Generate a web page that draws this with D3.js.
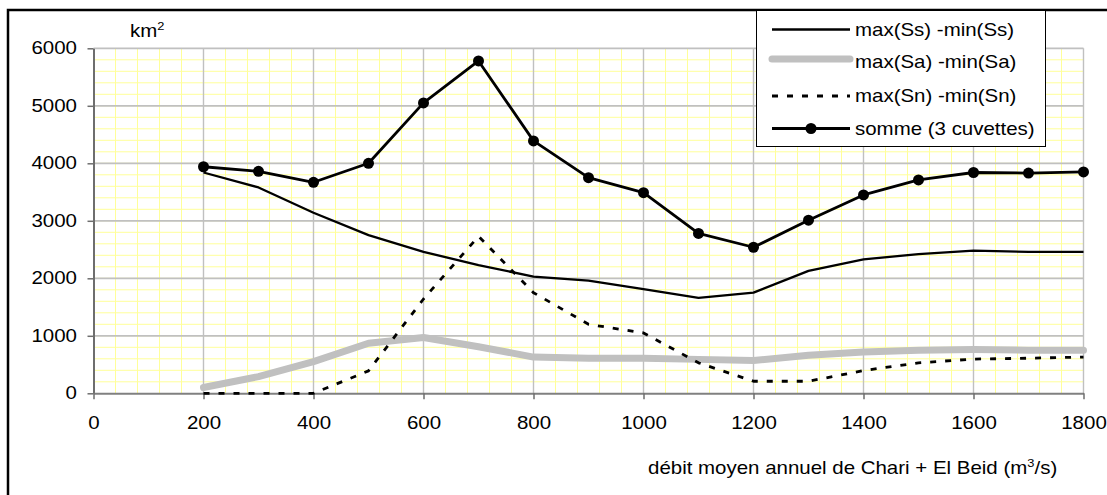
<!DOCTYPE html>
<html>
<head>
<meta charset="utf-8">
<script src="https://cdn.jsdelivr.net/npm/d3@7"></script>
<style>
  html, body { margin: 0; padding: 0; background: #fff; }
  svg { display: block; font-family: "Liberation Sans", Arial, sans-serif; }
</style>
</head>
<body>
<svg id="chart" width="1107" height="495"></svg>
<script>
// Débit moyen annuel (m3/s)
const debits = [200, 300, 400, 500, 600, 700, 800, 900, 1000, 1100, 1200, 1300, 1400, 1500, 1600, 1700, 1800];
// Amplitudes max - min (km2)
const ampSs = [3840, 3580, 3140, 2750, 2460, 2230, 2030, 1960, 1810, 1660, 1750, 2130, 2330, 2420, 2480, 2460, 2460];
const ampSa = [100, 290, 550, 870, 970, 810, 630, 610, 610, 590, 570, 660, 720, 750, 760, 750, 750];
const ampSn = [0, 0, 0, 390, 1640, 2730, 1750, 1200, 1050, 530, 210, 210, 395, 530, 595, 610, 630];
const somme = [3940, 3860, 3670, 4000, 5050, 5780, 4390, 3750, 3490, 2780, 2540, 3010, 3450, 3710, 3840, 3830, 3850];

const xTicks = [0, 200, 400, 600, 800, 1000, 1200, 1400, 1600, 1800];
const yTicks = [0, 1000, 2000, 3000, 4000, 5000, 6000];
const legendLabels = ["max(Ss) -min(Ss)", "max(Sa) -min(Sa)", "max(Sn) -min(Sn)", "somme (3 cuvettes)"];

const svg = d3.select("#chart");
const SX = 1.17;           // horizontal stretch of the text
const FS = 17.5;

const x = d3.scaleLinear().domain([0, 1800]).range([93.5, 1083.5]);
const y = d3.scaleLinear().domain([0, 6000]).range([393.3, 48.3]);

// chart frame (top and left edges)
svg.append("path")
  .attr("d", "M8,495 L8,10 L1107,10")
  .attr("fill", "none").attr("stroke", "#000").attr("stroke-width", 2.5);

// grid: minor yellow lines
const grid = svg.append("g");
grid.selectAll("line.minor-h").data(d3.range(200, 6000, 200)).join("line")
  .attr("x1", x(0)).attr("x2", x(1800))
  .attr("y1", d => y(d)).attr("y2", d => y(d))
  .attr("stroke", "#ffff99").attr("stroke-width", 1);
grid.selectAll("line.minor-v").data(d3.range(40, 1800, 40)).join("line")
  .attr("x1", d => x(d)).attr("x2", d => x(d))
  .attr("y1", y(0)).attr("y2", y(6000))
  .attr("stroke", "#ffff99").attr("stroke-width", 1);
// major grey lines
grid.selectAll("line.major-h").data(yTicks.slice(1)).join("line")
  .attr("x1", x(0)).attr("x2", x(1800))
  .attr("y1", d => y(d)).attr("y2", d => y(d))
  .attr("stroke", "#c0c0c0").attr("stroke-width", 1.8);
grid.selectAll("line.major-v").data(xTicks.slice(1)).join("line")
  .attr("x1", d => x(d)).attr("x2", d => x(d))
  .attr("y1", y(0)).attr("y2", y(6000))
  .attr("stroke", "#c0c0c0").attr("stroke-width", 1.4);

// axes
const yAxis = svg.append("g").attr("transform", `translate(${x(0)},0)`)
  .call(d3.axisLeft(y).tickValues(yTicks).tickSize(6).tickSizeOuter(0).tickFormat(d3.format("d")));
yAxis.select(".domain").attr("stroke", "#6e6e6e").attr("stroke-width", 2);
yAxis.selectAll(".tick line").attr("stroke", "#6e6e6e").attr("stroke-width", 1.5);
yAxis.selectAll(".tick text")
  .attr("x", -16.5 / SX).attr("font-size", FS).attr("fill", "#000")
  .attr("font-family", "Liberation Sans, Arial, sans-serif")
  .attr("transform", `scale(${SX},1)`);

const xAxis = svg.append("g").attr("transform", `translate(0,${y(0)})`)
  .call(d3.axisBottom(x).tickValues(xTicks).tickSize(6).tickSizeOuter(0).tickFormat(d3.format("d")));
xAxis.select(".domain").attr("stroke", "#808080").attr("stroke-width", 2);
xAxis.selectAll(".tick line").attr("stroke", "#6e6e6e").attr("stroke-width", 1.5);
xAxis.selectAll(".tick text")
  .attr("y", 23.5).attr("font-size", FS).attr("fill", "#000")
  .attr("font-family", "Liberation Sans, Arial, sans-serif")
  .attr("transform", `scale(${SX},1)`);

// series
const line = d3.line().x((d, i) => x(debits[i])).y(d => y(d));
const series = [
  { values: ampSa, stroke: "#c0c0c0", width: 7, dash: null },
  { values: ampSs, stroke: "#000", width: 2.3, dash: null },
  { values: ampSn, stroke: "#000", width: 2.8, dash: "6,9" },
  { values: somme, stroke: "#000", width: 2.8, dash: null }
];
svg.append("g").selectAll("path").data(series).join("path")
  .attr("d", d => line(d.values))
  .attr("fill", "none")
  .attr("stroke", d => d.stroke)
  .attr("stroke-width", d => d.width)
  .attr("stroke-dasharray", d => d.dash)
  .attr("stroke-linejoin", "round")
  .attr("stroke-linecap", d => d.width > 5 ? "round" : "butt");

svg.append("g").selectAll("circle").data(somme).join("circle")
  .attr("cx", (d, i) => x(debits[i])).attr("cy", d => y(d))
  .attr("r", 5.5).attr("fill", "#000");

// unit label
const km = svg.append("text")
  .attr("transform", `translate(130,37) scale(${SX},1)`)
  .attr("font-size", FS).attr("fill", "#000");
km.append("tspan").text("km");
km.append("tspan").attr("font-size", 11).attr("dy", -7).text("2");

// x axis title
const title = svg.append("text")
  .attr("transform", `translate(648,474) scale(${SX},1)`)
  .attr("font-size", FS).attr("fill", "#000");
title.append("tspan").text("débit moyen annuel de Chari + El Beid (m");
title.append("tspan").attr("font-size", 11).attr("dy", -7).text("3");
title.append("tspan").attr("dy", 7).text("/s)");

// legend
const lg = svg.append("g");
lg.append("rect").attr("x", 756.5).attr("y", 10.5).attr("width", 289).attr("height", 136)
  .attr("fill", "#fff").attr("stroke", "#000").attr("stroke-width", 1);
const legendY = [29.5, 62, 96, 128.5];
const legendStyles = [series[1], series[0], series[2], series[3]];
legendLabels.forEach((lab, i) => {
  const s = legendStyles[i];
  const ly = i === 1 ? legendY[i] - 3 : legendY[i];
  lg.append("line")
    .attr("x1", 772).attr("x2", 850)
    .attr("y1", ly).attr("y2", ly)
    .attr("stroke", s.stroke).attr("stroke-width", s.width)
    .attr("stroke-dasharray", s.dash)
    .attr("stroke-linecap", s.width > 5 ? "round" : "butt");
  if (i === 3) {
    lg.append("circle").attr("cx", 811).attr("cy", ly).attr("r", 5.5).attr("fill", "#000");
  }
  lg.append("text")
    .attr("transform", `translate(855,${legendY[i]}) scale(${SX},1)`)
    .attr("dy", "0.35em").attr("font-size", FS).attr("fill", "#000")
    .text(lab);
});
</script>
</body>
</html>
